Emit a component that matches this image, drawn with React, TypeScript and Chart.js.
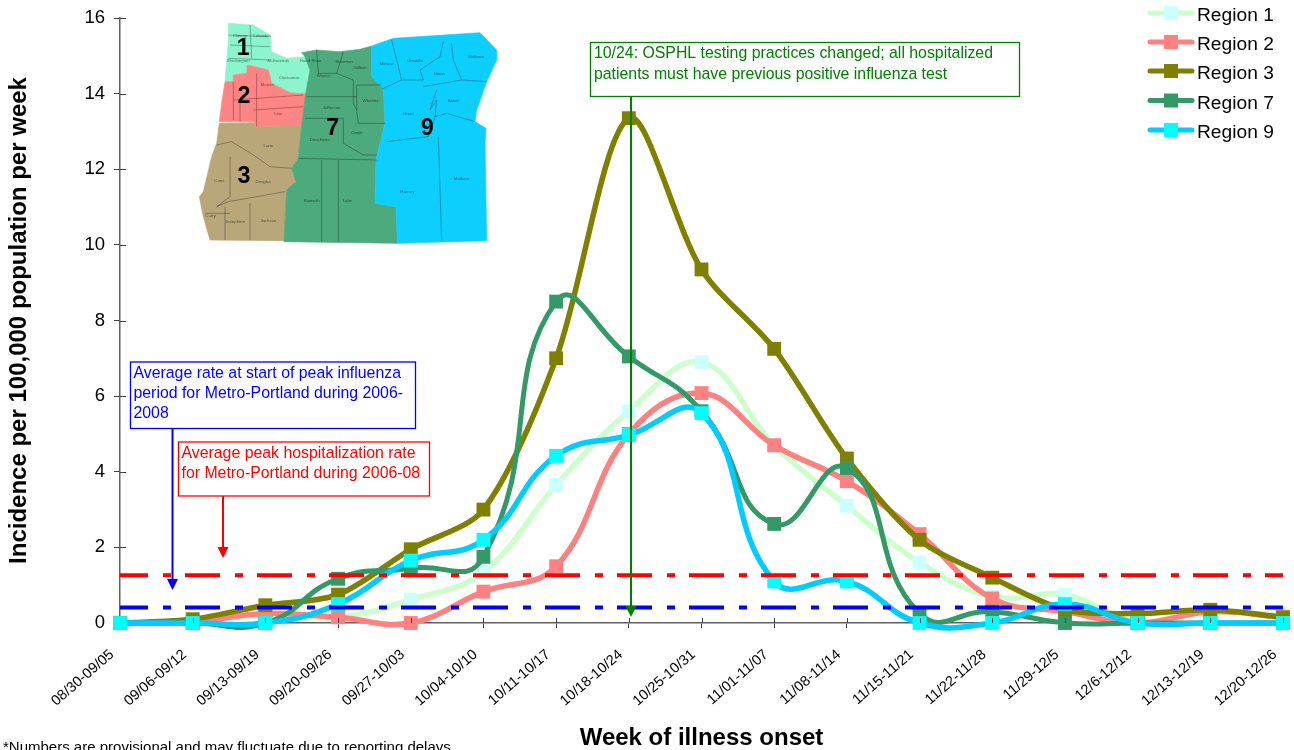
import React, { useEffect, useRef } from "react";
import { Chart, registerables } from "chart.js";

Chart.register(...registerables);

const weeks = ["08/30-09/05","09/06-09/12","09/13-09/19","09/20-09/26","09/27-10/03","10/04-10/10","10/11-10/17","10/18-10/24","10/25-10/31","11/01-11/07","11/08-11/14","11/15-11/21","11/22-11/28","11/29-12/5","12/6-12/12","12/13-12/19","12/20-12/26"];
const region1 = [0,0.03,0.22,0.15,0.62,1.35,3.65,5.6,6.9,4.7,3.1,1.6,0.7,0.75,0.05,0.3,0.2];
const region2 = [0,0.03,0.25,0.15,0,0.83,1.5,5.0,6.08,4.7,3.75,2.35,0.65,0.3,0,0.3,0.15];
const region3 = [0,0.1,0.47,0.75,1.95,3.0,7.0,13.35,9.35,7.25,4.35,2.2,1.2,0.35,0.25,0.35,0.15];
const region7 = [0,0,0,1.17,1.45,1.75,8.5,7.05,5.6,2.62,4.1,0.25,0.3,0,0,0,0];
const region9 = [0,0,0,0.5,1.65,2.2,4.42,4.97,5.55,1.1,1.1,0,0,0.5,0,0,0];
const regionNames = ["Region 1","Region 2","Region 3","Region 7","Region 9"];
const lineColors = ["#CCFFCC","#FF8080","#808000","#339966","#00CCFF"];
const markerColors = ["#CCFFFF","#FF8080","#808000","#339966","#00FFFF"];
const curveTension = [0.4, 0.4, 0.3, 0.5, 0.45];
const peakRate = 1.26;
const startRate = 0.41;

const FONT = '"Liberation Sans", Arial, sans-serif';

const regions: [string, string][] = [
  ["#8CF5CE","115,40 190,45 240,75 245,125 290,145 345,140 360,180 355,225 347,252 300,248 245,220 235,180 172,165 165,215 105,215 110,150 115,100"],
  ["#FF8585","105,215 130,215 130,195 170,190 172,165 235,180 245,220 300,248 347,252 335,345 200,352 190,335 88,335 95,280"],
  ["#B9A77A","88,340 190,338 200,352 335,345 325,445 305,475 318,515 290,540 282,692 60,690 40,620 28,560 40,545 65,440 80,400"],
  ["#4DAA7C","335,128 380,120 450,125 510,118 545,108 545,200 580,235 585,340 570,400 558,450 555,580 618,590 622,700 282,695 290,540 318,515 305,475 325,445 335,345 347,252 360,180 345,140"],
  ["#0FCFFF","545,108 610,85 870,68 920,120 920,150 890,215 860,300 855,335 888,355 885,400 890,692 622,700 618,590 555,580 558,450 570,400 585,340 580,235 545,200"],
];
const countyLines = [
  "115,75 235,80","115,145 240,150","180,45 185,145","120,105 240,110",
  "130,215 130,330","200,190 200,350","130,270 340,255","150,270 150,335","190,300 340,290",
  "80,405 125,395 190,435 240,470 305,475","120,440 120,560 80,590 115,575 285,545","180,580 180,690","105,590 105,690","45,610 120,610",
  "380,120 385,190 440,190 460,125","440,190 490,210 490,280 500,300 500,225 575,225","350,260 500,260","345,325 460,325 460,400 520,435 560,435","500,300 505,340 585,340","325,445 560,450","395,450 395,695","445,450 445,695",
  "605,90 635,210 580,235","635,210 700,210 690,180 750,140 760,95","785,100 790,150 815,210 890,215","700,230 815,210","740,240 720,300 740,270 735,320 715,380 590,395","735,320 770,310 855,335","745,380 755,692",
];
const countyNames: [string, number, number][] = [
  ["Clatsop",150,80],["Columbia",215,80],["Washington",145,155],["Multnomah",265,155],["Clackamas",298,208],["Marion",232,228],["Linn",265,315],["Lane",235,412],["Douglas",220,520],["Coos",88,517],["Curry",62,620],["Josephine",135,638],["Jackson",235,635],["Klamath",365,575],["Lake",472,575],["Hood River",362,155],["Sherman",462,160],["Gilliam",510,178],["Wasco",400,200],["Wheeler",542,277],["Jefferson",425,297],["Crook",500,372],["Deschutes",390,392],["Morrow",590,165],["Umatilla",675,157],["Union",748,195],["Wallowa",858,145],["Baker",790,275],["Grant",655,315],["Harney",652,548],["Malheur",815,510],
];
const regionMarks: [string, number, number][] = [["1",160,135],["2",162,280],["3",162,520],["7",428,375],["9",712,375]];

function box(ctx: any, x: number, y: number, w: number, h: number, color: string, lines: string[], baselines: number[], tx: number) {
  ctx.save();
  ctx.fillStyle = "#FFFFFF";
  ctx.fillRect(x, y, w, h);
  ctx.strokeStyle = color;
  ctx.lineWidth = 1.3;
  ctx.strokeRect(x, y, w, h);
  ctx.fillStyle = color;
  ctx.font = `15.85px ${FONT}`;
  ctx.textAlign = "left";
  ctx.textBaseline = "alphabetic";
  lines.forEach((l, i) => ctx.fillText(l, tx, baselines[i]));
  ctx.restore();
}

function arrow(ctx: any, x: number, y0: number, tip: number, color: string) {
  ctx.save();
  ctx.strokeStyle = color;
  ctx.fillStyle = color;
  ctx.lineWidth = 2;
  ctx.beginPath();
  ctx.moveTo(x, y0);
  ctx.lineTo(x, tip - 8);
  ctx.stroke();
  ctx.beginPath();
  ctx.moveTo(x - 5.5, tip - 11);
  ctx.lineTo(x + 5.5, tip - 11);
  ctx.lineTo(x, tip);
  ctx.closePath();
  ctx.fill();
  ctx.restore();
}

const overlay = {
  id: "overlay",
  afterDatasetsDraw(chart: any) {
    const { ctx, scales } = chart;
    const xs = scales.x, ys = scales.y;
    ctx.save();
    ctx.strokeStyle = "#404040";
    ctx.lineWidth = 1;
    weeks.forEach((_, i) => {
      if (i === 0) return;
      const px = Math.round(xs.getPixelForValue(i)) + 0.5;
      ctx.beginPath();
      ctx.moveTo(px, ys.bottom);
      ctx.lineTo(px, ys.bottom - 5);
      ctx.stroke();
    });
    ys.ticks.forEach((t: any) => {
      if (t.value === 0) return;
      const py = Math.round(ys.getPixelForValue(t.value)) + 0.5;
      ctx.beginPath();
      ctx.moveTo(xs.left, py);
      ctx.lineTo(xs.left + 6, py);
      ctx.stroke();
    });
    ctx.restore();
    [[peakRate, "#FF0000"], [startRate, "#0000FF"]].forEach(([v, c]: any) => {
      ctx.save();
      ctx.strokeStyle = c;
      ctx.lineWidth = 4;
      ctx.setLineDash([35, 15, 8, 14]);
      ctx.lineDashOffset = 7;
      ctx.beginPath();
      const py = ys.getPixelForValue(v);
      ctx.moveTo(xs.left, py);
      ctx.lineTo(xs.right, py);
      ctx.stroke();
      ctx.restore();
    });
    arrow(ctx, 172.5, 428, 590, "#0000FF");
    arrow(ctx, 223, 496, 558, "#FF0000");
    arrow(ctx, 631, 96, 617, "#008000");
    box(ctx, 130.5, 362, 285, 66.5, "#0000FF",
      ["Average rate at start of peak influenza", "period for Metro-Portland during 2006-", "2008"], [378, 398, 418], 133.5);
    box(ctx, 178.5, 442, 251, 54, "#FF0000",
      ["Average peak hospitalization rate", "for Metro-Portland during 2006-08"], [458, 478], 181.5);
    box(ctx, 590.5, 42.5, 429, 54, "#008000",
      ["10/24: OSPHL testing practices changed; all hospitalized", "patients must have previous positive influenza test"], [58, 79], 594);
    const legendY = [13, 42, 71, 100.5, 130];
    chart.data.datasets.forEach((d: any, i: number) => {
      const y = legendY[i];
      ctx.save();
      ctx.strokeStyle = d.borderColor;
      ctx.lineWidth = 5;
      ctx.lineCap = "round";
      ctx.beginPath();
      ctx.moveTo(1150, y);
      ctx.lineTo(1192, y);
      ctx.stroke();
      ctx.fillStyle = d.pointBackgroundColor;
      ctx.fillRect(1164, y - 7, 14, 14);
      ctx.fillStyle = "#000000";
      ctx.font = `19.2px ${FONT}`;
      ctx.textAlign = "left";
      ctx.textBaseline = "alphabetic";
      ctx.fillText(d.label, 1197, y + 8);
      ctx.restore();
    });
    ctx.save();
    ctx.fillStyle = "#000000";
    ctx.font = `15px ${FONT}`;
    ctx.textAlign = "left";
    ctx.fillText("*Numbers are provisional and may fluctuate due to reporting delays", 3, 752);
    ctx.restore();
  },
};

export default function App() {
  const ref = useRef<HTMLCanvasElement>(null);
  useEffect(() => {
    const series = [region1, region2, region3, region7, region9];
    const chart = new Chart(ref.current as any, {
      type: "line",
      data: {
        labels: weeks,
        datasets: series.map((data, i) => ({
          label: regionNames[i],
          data,
          order: series.length - i,
          borderColor: lineColors[i],
          backgroundColor: lineColors[i],
          borderWidth: i === 3 ? 5 : 5.5,
          tension: curveTension[i],
          capBezierPoints: false,
          clip: false,
          pointStyle: "rect",
          pointRadius: 9.8,
          pointBorderWidth: 0,
          pointBackgroundColor: markerColors[i],
        })),
      } as any,
      options: {
        animation: false,
        responsive: false,
        layout: { padding: { top: 18, right: 11, left: 0, bottom: 0 } },
        plugins: { legend: { display: false }, tooltip: { enabled: false }, title: { display: false } },
        scales: {
          x: {
            offset: false,
            afterFit: (s: any) => { s.height = 127; s.paddingLeft = 0; s.paddingRight = 0; },
            border: { color: "#606060", width: 1.5 },
            grid: { drawOnChartArea: false, drawTicks: true, tickLength: 5, color: "#404040" },
            ticks: { autoSkip: false, minRotation: 41, maxRotation: 41, color: "#000000", font: { family: FONT, size: 14.5 }, padding: 18, labelOffset: -8 },
            title: { display: true, text: "Week of illness onset", color: "#000000", font: { family: FONT, size: 24, weight: "bold", lineHeight: 1 }, padding: 0 },
          },
          y: {
            min: 0,
            max: 16,
            afterFit: (s: any) => { s.width = 120; s.paddingTop = 0; s.paddingBottom = 0; },
            border: { color: "#606060", width: 1.5 },
            grid: { drawOnChartArea: false, drawTicks: true, tickLength: 6, color: "#404040" },
            ticks: { stepSize: 2, color: "#000000", font: { family: FONT, size: 18.5 }, padding: 9 },
            title: { display: true, text: "Incidence per 100,000 population per week", color: "#000000", font: { family: FONT, size: 24, weight: "bold", lineHeight: 1 }, padding: { top: 7, bottom: 0 } },
          },
        },
      } as any,
      plugins: [overlay],
    });
    return () => chart.destroy();
  }, []);

  return (
    <div style={{ position: "absolute", left: 0, top: 0, width: 1294, height: 750, overflow: "hidden", background: "#FFFFFF" }}>
      <canvas ref={ref} width={1294} height={750} style={{ display: "block", position: "absolute", left: 0, top: 0 }} />
      <svg width={320} height={250} viewBox="0 0 960 750" style={{ position: "absolute", left: 190, top: 10 }}>
        <defs>
          <filter id="soft"><feGaussianBlur stdDeviation="1.2" /></filter>
        </defs>
        <g filter="url(#soft)">
          {regions.map(([c, p], i) => <polygon key={i} points={p} fill={c} stroke={c} strokeWidth={2} />)}
          {countyLines.map((p, i) => <polyline key={i} points={p} fill="none" stroke="#000000" strokeOpacity={0.4} strokeWidth={2.2} />)}
          {countyNames.map(([t, x, y], i) => <text key={i} x={x} y={y} fontSize={13} textAnchor="middle" fill="#000000" fillOpacity={0.55} fontFamily={FONT}>{t}</text>)}
        </g>
        {regionMarks.map(([t, x, y], i) => <text key={i} x={x} y={y} fontSize={70} fontWeight="bold" textAnchor="middle" fill="#000000" fontFamily={FONT}>{t}</text>)}
      </svg>
    </div>
  );
}
